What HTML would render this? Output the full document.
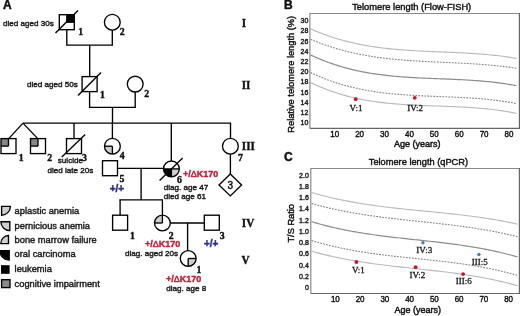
<!DOCTYPE html>
<html><head><meta charset="utf-8"><style>
html,body{margin:0;padding:0;background:#fff;}
body{width:520px;height:316px;overflow:hidden;font-family:"Liberation Sans", sans-serif;}
svg{display:block;will-change:transform;}
</style></head><body>
<svg width="520" height="316" viewBox="0 0 520 316">
<rect width="520" height="316" fill="#fff"/>
<rect x="66.8" y="14.7" width="7.5" height="7.5" fill="#000" stroke="none"/>
<line x1="66.8" y1="22.2" x2="74.3" y2="22.2" stroke="#000" stroke-width="1.35" />
<line x1="66.8" y1="22.2" x2="66.8" y2="14.7" stroke="#000" stroke-width="1.35" />
<rect x="59.3" y="14.7" width="15.0" height="15.0" fill="none" stroke="#000" stroke-width="1.35"/>
<line x1="55.5" y1="33" x2="78" y2="10.5" stroke="#000" stroke-width="1.35" />
<circle cx="112.3" cy="22.2" r="7.9" fill="none" stroke="#000" stroke-width="1.35"/>
<line x1="66.8" y1="29.7" x2="66.8" y2="45.1" stroke="#000" stroke-width="1.35" />
<line x1="66.1" y1="45.1" x2="113.0" y2="45.1" stroke="#000" stroke-width="1.35" />
<line x1="112.3" y1="30.1" x2="112.3" y2="45.1" stroke="#000" stroke-width="1.35" />
<line x1="89.7" y1="45.1" x2="89.7" y2="76.8" stroke="#000" stroke-width="1.35" />
<rect x="82.1" y="76.6" width="15.0" height="15.0" fill="none" stroke="#000" stroke-width="1.35"/>
<line x1="78" y1="95.5" x2="101" y2="72.5" stroke="#000" stroke-width="1.35" />
<circle cx="135.2" cy="84.1" r="7.9" fill="none" stroke="#000" stroke-width="1.35"/>
<line x1="89.6" y1="91.6" x2="89.6" y2="107.3" stroke="#000" stroke-width="1.35" />
<line x1="88.9" y1="107.3" x2="135.9" y2="107.3" stroke="#000" stroke-width="1.35" />
<line x1="135.2" y1="92.0" x2="135.2" y2="107.3" stroke="#000" stroke-width="1.35" />
<line x1="112.5" y1="107.3" x2="112.5" y2="123.1" stroke="#000" stroke-width="1.35" />
<line x1="23" y1="123.1" x2="231.1" y2="123.1" stroke="#000" stroke-width="1.35" />
<line x1="23" y1="123.1" x2="8.5" y2="138.9" stroke="#000" stroke-width="1.35" />
<line x1="23" y1="123.1" x2="38.0" y2="138.9" stroke="#000" stroke-width="1.35" />
<rect x="1.0" y="138.6" width="7.5" height="7.5" fill="#868686" stroke="none"/>
<line x1="8.5" y1="146.1" x2="1.0" y2="146.1" stroke="#000" stroke-width="1.35" />
<line x1="8.5" y1="146.1" x2="8.5" y2="138.6" stroke="#000" stroke-width="1.35" />
<rect x="1.0" y="138.6" width="15.0" height="15.0" fill="none" stroke="#000" stroke-width="1.35"/>
<rect x="30.5" y="138.6" width="7.5" height="7.5" fill="#868686" stroke="none"/>
<line x1="38.0" y1="146.1" x2="30.5" y2="146.1" stroke="#000" stroke-width="1.35" />
<line x1="38.0" y1="146.1" x2="38.0" y2="138.6" stroke="#000" stroke-width="1.35" />
<rect x="30.5" y="138.6" width="15.0" height="15.0" fill="none" stroke="#000" stroke-width="1.35"/>
<line x1="74.0" y1="123.1" x2="74.0" y2="138.6" stroke="#000" stroke-width="1.35" />
<rect x="66.5" y="138.6" width="15.0" height="15.0" fill="none" stroke="#000" stroke-width="1.35"/>
<line x1="61.8" y1="157" x2="85.2" y2="134.5" stroke="#000" stroke-width="1.35" />
<line x1="112.4" y1="123.1" x2="112.4" y2="138.3" stroke="#000" stroke-width="1.35" />
<path d="M112.4,146.2 L112.40,154.10 A7.9,7.9 0 0 1 104.50,146.20 Z" fill="#cfcfcf" stroke="none"/>
<line x1="112.4" y1="146.2" x2="112.4" y2="154.1" stroke="#000" stroke-width="1.35" />
<line x1="112.4" y1="146.2" x2="104.5" y2="146.2" stroke="#000" stroke-width="1.35" />
<circle cx="112.4" cy="146.2" r="7.9" fill="none" stroke="#000" stroke-width="1.35"/>
<rect x="102.5" y="160.7" width="15.0" height="15.0" fill="none" stroke="#000" stroke-width="1.35"/>
<line x1="117.5" y1="168.4" x2="163.5" y2="168.4" stroke="#000" stroke-width="1.35" />
<line x1="171.3" y1="123.1" x2="171.3" y2="161.0" stroke="#000" stroke-width="1.35" />
<path d="M171.4,168.9 L171.40,176.80 A7.9,7.9 0 0 1 163.50,168.90 Z" fill="#000" stroke="none"/>
<path d="M171.4,168.9 L179.30,168.90 A7.9,7.9 0 0 1 171.40,176.80 Z" fill="#cfcfcf" stroke="none"/>
<line x1="163.5" y1="168.9" x2="179.3" y2="168.9" stroke="#000" stroke-width="1.35" />
<line x1="171.4" y1="168.9" x2="171.4" y2="176.8" stroke="#000" stroke-width="1.35" />
<circle cx="171.4" cy="168.9" r="7.9" fill="none" stroke="#000" stroke-width="1.35"/>
<line x1="159.6" y1="180.4" x2="182.6" y2="158.1" stroke="#000" stroke-width="1.35" />
<line x1="230.5" y1="123.1" x2="230.5" y2="138.3" stroke="#000" stroke-width="1.35" />
<circle cx="230.4" cy="146.2" r="7.9" fill="none" stroke="#000" stroke-width="1.35"/>
<line x1="230.4" y1="154.1" x2="230.4" y2="174.0" stroke="#000" stroke-width="1.35" />
<path d="M230.3,173.9 L241.6,184.9 L230.3,195.9 L219.0,184.9 Z" fill="none" stroke="#000" stroke-width="1.35"/>
<line x1="141.1" y1="168.4" x2="141.1" y2="199.8" stroke="#000" stroke-width="1.35" />
<line x1="119.4" y1="199.8" x2="163.0" y2="199.8" stroke="#000" stroke-width="1.35" />
<line x1="120.1" y1="199.8" x2="120.1" y2="215.2" stroke="#000" stroke-width="1.35" />
<rect x="112.6" y="215.2" width="15.0" height="15.0" fill="none" stroke="#000" stroke-width="1.35"/>
<line x1="162.4" y1="199.8" x2="162.4" y2="215.0" stroke="#000" stroke-width="1.35" />
<path d="M162.4,223.0 L154.50,223.00 A7.9,7.9 0 0 1 162.40,215.10 Z" fill="#cfcfcf" stroke="none"/>
<line x1="162.4" y1="223.0" x2="154.5" y2="223.0" stroke="#000" stroke-width="1.35" />
<line x1="162.4" y1="223.0" x2="162.4" y2="215.1" stroke="#000" stroke-width="1.35" />
<circle cx="162.4" cy="223.0" r="7.9" fill="none" stroke="#000" stroke-width="1.35"/>
<line x1="170.3" y1="223.0" x2="204.3" y2="223.0" stroke="#000" stroke-width="1.35" />
<rect x="204.3" y="215.2" width="15.0" height="15.0" fill="none" stroke="#000" stroke-width="1.35"/>
<line x1="187.6" y1="223.0" x2="187.6" y2="250.6" stroke="#000" stroke-width="1.35" />
<path d="M188.2,258.5 L196.10,258.50 A7.9,7.9 0 0 1 188.20,266.40 Z" fill="#cfcfcf" stroke="none"/>
<line x1="188.2" y1="258.5" x2="196.1" y2="258.5" stroke="#000" stroke-width="1.35" />
<line x1="188.2" y1="258.5" x2="188.2" y2="266.4" stroke="#000" stroke-width="1.35" />
<circle cx="188.2" cy="258.5" r="7.9" fill="none" stroke="#000" stroke-width="1.35"/>
<text x="78.2" y="34.7" font-family='"Liberation Serif", serif' font-size="9.8" font-weight="bold" fill="#111" text-anchor="start" stroke="#111" stroke-width="0.4" >1</text>
<text x="119.8" y="35.4" font-family='"Liberation Serif", serif' font-size="9.8" font-weight="bold" fill="#111" text-anchor="start" stroke="#111" stroke-width="0.4" >2</text>
<text x="100.0" y="97.7" font-family='"Liberation Serif", serif' font-size="9.8" font-weight="bold" fill="#111" text-anchor="start" stroke="#111" stroke-width="0.4" >1</text>
<text x="144.2" y="97.4" font-family='"Liberation Serif", serif' font-size="9.8" font-weight="bold" fill="#111" text-anchor="start" stroke="#111" stroke-width="0.4" >2</text>
<text x="18.8" y="160.9" font-family='"Liberation Serif", serif' font-size="9.8" font-weight="bold" fill="#111" text-anchor="start" stroke="#111" stroke-width="0.4" >1</text>
<text x="47.3" y="161.0" font-family='"Liberation Serif", serif' font-size="9.8" font-weight="bold" fill="#111" text-anchor="start" stroke="#111" stroke-width="0.4" >2</text>
<text x="81.9" y="161.0" font-family='"Liberation Serif", serif' font-size="9.8" font-weight="bold" fill="#111" text-anchor="start" stroke="#111" stroke-width="0.4" >3</text>
<text x="119.8" y="159.4" font-family='"Liberation Serif", serif' font-size="9.8" font-weight="bold" fill="#111" text-anchor="start" stroke="#111" stroke-width="0.4" >4</text>
<text x="119.5" y="182.3" font-family='"Liberation Serif", serif' font-size="9.8" font-weight="bold" fill="#111" text-anchor="start" stroke="#111" stroke-width="0.4" >5</text>
<text x="177.0" y="183.3" font-family='"Liberation Serif", serif' font-size="9.8" font-weight="bold" fill="#111" text-anchor="start" stroke="#111" stroke-width="0.4" >6</text>
<text x="237.9" y="160.6" font-family='"Liberation Serif", serif' font-size="9.8" font-weight="bold" fill="#111" text-anchor="start" stroke="#111" stroke-width="0.4" >7</text>
<text x="129.9" y="239.1" font-family='"Liberation Serif", serif' font-size="9.8" font-weight="bold" fill="#111" text-anchor="start" stroke="#111" stroke-width="0.4" >1</text>
<text x="168.8" y="238.6" font-family='"Liberation Serif", serif' font-size="9.8" font-weight="bold" fill="#111" text-anchor="start" stroke="#111" stroke-width="0.4" >2</text>
<text x="219.8" y="239.1" font-family='"Liberation Serif", serif' font-size="9.8" font-weight="bold" fill="#111" text-anchor="start" stroke="#111" stroke-width="0.4" >3</text>
<text x="196.6" y="272.7" font-family='"Liberation Serif", serif' font-size="9.8" font-weight="bold" fill="#111" text-anchor="start" stroke="#111" stroke-width="0.4" >1</text>
<text x="0" y="0" font-family='"Liberation Serif", serif' font-size="13" font-weight="bold" fill="#111" text-anchor="start" stroke="#111" stroke-width="0.42" transform="translate(241.7,26.8) scale(0.86,1)">I</text>
<text x="0" y="0" font-family='"Liberation Serif", serif' font-size="13" font-weight="bold" fill="#111" text-anchor="start" stroke="#111" stroke-width="0.42" transform="translate(241.7,88.9) scale(0.86,1)">II</text>
<text x="0" y="0" font-family='"Liberation Serif", serif' font-size="13" font-weight="bold" fill="#111" text-anchor="start" stroke="#111" stroke-width="0.42" transform="translate(241.8,149.6) scale(0.86,1)">III</text>
<text x="0" y="0" font-family='"Liberation Serif", serif' font-size="13" font-weight="bold" fill="#111" text-anchor="start" stroke="#111" stroke-width="0.42" transform="translate(241.8,227.4) scale(0.86,1)">IV</text>
<text x="0" y="0" font-family='"Liberation Serif", serif' font-size="13" font-weight="bold" fill="#111" text-anchor="start" stroke="#111" stroke-width="0.42" transform="translate(241.4,263.6) scale(0.86,1)">V</text>
<text x="3.0" y="26.3" font-family='"Liberation Sans", sans-serif' font-size="8.1" font-weight="normal" fill="#1a1a1a" text-anchor="start" stroke="#1a1a1a" stroke-width="0.42" >died aged 30s</text>
<text x="27.0" y="87.3" font-family='"Liberation Sans", sans-serif' font-size="8.1" font-weight="normal" fill="#1a1a1a" text-anchor="start" stroke="#1a1a1a" stroke-width="0.42" >died aged 50s</text>
<text x="57.8" y="163.4" font-family='"Liberation Sans", sans-serif' font-size="8.1" font-weight="normal" fill="#1a1a1a" text-anchor="start" stroke="#1a1a1a" stroke-width="0.42" >suicide</text>
<text x="47.4" y="172.9" font-family='"Liberation Sans", sans-serif' font-size="8.1" font-weight="normal" fill="#1a1a1a" text-anchor="start" stroke="#1a1a1a" stroke-width="0.42" >died late 20s</text>
<text x="163.8" y="189.9" font-family='"Liberation Sans", sans-serif' font-size="8.1" font-weight="normal" fill="#1a1a1a" text-anchor="start" stroke="#1a1a1a" stroke-width="0.42" >diag. age 47</text>
<text x="163.8" y="199.3" font-family='"Liberation Sans", sans-serif' font-size="8.1" font-weight="normal" fill="#1a1a1a" text-anchor="start" stroke="#1a1a1a" stroke-width="0.42" >died age 61</text>
<text x="125.0" y="256.1" font-family='"Liberation Sans", sans-serif' font-size="8.1" font-weight="normal" fill="#1a1a1a" text-anchor="start" stroke="#1a1a1a" stroke-width="0.42" >diag. aged 20s</text>
<text x="166.3" y="290.6" font-family='"Liberation Sans", sans-serif' font-size="8.1" font-weight="normal" fill="#1a1a1a" text-anchor="start" stroke="#1a1a1a" stroke-width="0.42" >diag. age 8</text>
<text x="183.0" y="176.9" font-family='"Liberation Sans", sans-serif' font-size="9" font-weight="bold" fill="#c21f38" text-anchor="start" stroke="#c21f38" stroke-width="0.42" >+/<tspan font-weight="normal" stroke-width="0.5">Δ</tspan>K170</text>
<text x="145.0" y="247.2" font-family='"Liberation Sans", sans-serif' font-size="9" font-weight="bold" fill="#c21f38" text-anchor="start" stroke="#c21f38" stroke-width="0.42" >+/<tspan font-weight="normal" stroke-width="0.5">Δ</tspan>K170</text>
<text x="165.9" y="281.8" font-family='"Liberation Sans", sans-serif' font-size="9" font-weight="bold" fill="#c21f38" text-anchor="start" stroke="#c21f38" stroke-width="0.42" >+/<tspan font-weight="normal" stroke-width="0.5">Δ</tspan>K170</text>
<text x="109.7" y="192.4" font-family='"Liberation Sans", sans-serif' font-size="10" font-weight="bold" fill="#2f2f86" text-anchor="start" stroke="#2f2f86" stroke-width="0.42" >+/+</text>
<text x="204.0" y="246.6" font-family='"Liberation Sans", sans-serif' font-size="10" font-weight="bold" fill="#2f2f86" text-anchor="start" stroke="#2f2f86" stroke-width="0.42" >+/+</text>
<text x="227.5" y="189.0" font-family='"Liberation Sans", sans-serif' font-size="10" font-weight="normal" fill="#111" text-anchor="start" stroke="#111" stroke-width="0.42" >3</text>
<text x="3.0" y="8.5" font-family='"Liberation Sans", sans-serif' font-size="12" font-weight="bold" fill="#111" text-anchor="start" stroke="#111" stroke-width="0.45" >A</text>
<path d="M1.6,206.4 H10.4 A8.8,8.8 0 0 1 1.6,215.2 Z" fill="#cfcfcf" stroke="#000" stroke-width="1.35"/>
<path d="M9.8,221.7 V230.6 A8.9,8.9 0 0 1 0.9,221.7 Z" fill="#cfcfcf" stroke="#000" stroke-width="1.35"/>
<path d="M8.5,243.6 H0.8 A7.7,8.1 0 0 1 8.5,235.5 Z" fill="#cfcfcf" stroke="#000" stroke-width="1.35"/>
<path d="M9.2,250.6 V260.0 A9.4,9.4 0 0 1 -0.2,250.6 Z" fill="#000" stroke="#000" stroke-width="1.35"/>
<rect x="1.0" y="265.2" width="8.6" height="8.6" fill="#000"/>
<rect x="1.6" y="279.7" width="8.4" height="7.9" fill="#8a8a8a" stroke="#000" stroke-width="1.35"/>
<text x="14.6" y="214.0" font-family='"Liberation Sans", sans-serif' font-size="9.3" font-weight="normal" fill="#1a1a1a" text-anchor="start" stroke="#1a1a1a" stroke-width="0.42" >aplastic anemia</text>
<text x="14.6" y="228.9" font-family='"Liberation Sans", sans-serif' font-size="9.3" font-weight="normal" fill="#1a1a1a" text-anchor="start" stroke="#1a1a1a" stroke-width="0.42" >pernicious anemia</text>
<text x="14.6" y="242.9" font-family='"Liberation Sans", sans-serif' font-size="9.3" font-weight="normal" fill="#1a1a1a" text-anchor="start" stroke="#1a1a1a" stroke-width="0.42" >bone marrow failure</text>
<text x="14.6" y="256.8" font-family='"Liberation Sans", sans-serif' font-size="9.3" font-weight="normal" fill="#1a1a1a" text-anchor="start" stroke="#1a1a1a" stroke-width="0.42" >oral carcinoma</text>
<text x="14.6" y="271.8" font-family='"Liberation Sans", sans-serif' font-size="9.3" font-weight="normal" fill="#1a1a1a" text-anchor="start" stroke="#1a1a1a" stroke-width="0.42" >leukemia</text>
<text x="14.6" y="286.7" font-family='"Liberation Sans", sans-serif' font-size="9.3" font-weight="normal" fill="#1a1a1a" text-anchor="start" stroke="#1a1a1a" stroke-width="0.42" >cognitive impairment</text>
<text x="284.0" y="8.6" font-family='"Liberation Sans", sans-serif' font-size="12" font-weight="bold" fill="#111" text-anchor="start" stroke="#111" stroke-width="0.45" >B</text>
<text x="352.2" y="9.6" font-family='"Liberation Sans", sans-serif' font-size="9.32" font-weight="normal" fill="#111" text-anchor="start" stroke="#111" stroke-width="0.42" >Telomere length (Flow-FISH)</text>
<polyline points="310.6,28.89 312.6,29.77 314.6,30.63 316.6,31.47 318.6,32.28 320.6,33.07 322.6,33.83 324.6,34.57 326.6,35.29 328.6,35.99 330.6,36.67 332.6,37.32 334.6,37.96 336.6,38.57 338.6,39.17 340.6,39.74 342.6,40.30 344.6,40.83 346.6,41.35 348.6,41.85 350.6,42.33 352.6,42.80 354.6,43.24 356.6,43.68 358.6,44.09 360.6,44.49 362.6,44.87 364.6,45.24 366.6,45.60 368.6,45.94 370.6,46.26 372.6,46.58 374.6,46.88 376.6,47.16 378.6,47.44 380.6,47.70 382.6,47.95 384.6,48.19 386.6,48.42 388.6,48.64 390.6,48.85 392.6,49.05 394.6,49.24 396.6,49.42 398.6,49.59 400.6,49.75 402.6,49.91 404.6,50.06 406.6,50.20 408.6,50.34 410.6,50.47 412.6,50.59 414.6,50.71 416.6,50.82 418.6,50.93 420.6,51.03 422.6,51.13 424.6,51.23 426.6,51.32 428.6,51.41 430.6,51.50 432.6,51.59 434.6,51.67 436.6,51.75 438.6,51.84 440.6,51.92 442.6,52.00 444.6,52.08 446.6,52.16 448.6,52.25 450.6,52.33 452.6,52.42 454.6,52.51 456.6,52.60 458.6,52.70 460.6,52.79 462.6,52.90 464.6,53.00 466.6,53.11 468.6,53.23 470.6,53.35 472.6,53.48 474.6,53.61 476.6,53.75 478.6,53.89 480.6,54.04 482.6,54.20 484.6,54.37 486.6,54.55 488.6,54.73 490.6,54.93 492.6,55.13 494.6,55.35 496.6,55.57 498.6,55.80 500.6,56.05 502.6,56.31 504.6,56.57 506.6,56.86 508.6,57.15 510.6,57.45 512.6,57.77 514.6,58.11 516.6,58.45" fill="none" stroke="#b8b8b8" stroke-width="1.1"/>
<polyline points="310.6,39.27 312.6,40.12 314.6,40.95 316.6,41.75 318.6,42.53 320.6,43.29 322.6,44.03 324.6,44.75 326.6,45.44 328.6,46.12 330.6,46.77 332.6,47.41 334.6,48.03 336.6,48.63 338.6,49.21 340.6,49.77 342.6,50.31 344.6,50.84 346.6,51.35 348.6,51.84 350.6,52.32 352.6,52.78 354.6,53.22 356.6,53.65 358.6,54.06 360.6,54.46 362.6,54.84 364.6,55.21 366.6,55.57 368.6,55.91 370.6,56.24 372.6,56.56 374.6,56.86 376.6,57.16 378.6,57.44 380.6,57.71 382.6,57.97 384.6,58.21 386.6,58.45 388.6,58.68 390.6,58.90 392.6,59.10 394.6,59.30 396.6,59.50 398.6,59.68 400.6,59.85 402.6,60.02 404.6,60.18 406.6,60.34 408.6,60.48 410.6,60.62 412.6,60.76 414.6,60.89 416.6,61.01 418.6,61.13 420.6,61.25 422.6,61.36 424.6,61.46 426.6,61.57 428.6,61.67 430.6,61.77 432.6,61.86 434.6,61.96 436.6,62.05 438.6,62.14 440.6,62.23 442.6,62.32 444.6,62.41 446.6,62.50 448.6,62.58 450.6,62.67 452.6,62.76 454.6,62.86 456.6,62.95 458.6,63.05 460.6,63.15 462.6,63.25 464.6,63.35 466.6,63.46 468.6,63.57 470.6,63.69 472.6,63.81 474.6,63.93 476.6,64.06 478.6,64.20 480.6,64.34 482.6,64.49 484.6,64.64 486.6,64.81 488.6,64.98 490.6,65.15 492.6,65.34 494.6,65.53 496.6,65.73 498.6,65.94 500.6,66.16 502.6,66.39 504.6,66.63 506.6,66.88 508.6,67.14 510.6,67.41 512.6,67.70 514.6,67.99 516.6,68.30" fill="none" stroke="#808080" stroke-width="1.05" stroke-dasharray="1.8 1.2"/>
<polyline points="310.6,54.91 312.6,55.86 314.6,56.77 316.6,57.66 318.6,58.52 320.6,59.36 322.6,60.17 324.6,60.96 326.6,61.72 328.6,62.46 330.6,63.18 332.6,63.87 334.6,64.54 336.6,65.19 338.6,65.82 340.6,66.42 342.6,67.00 344.6,67.57 346.6,68.11 348.6,68.63 350.6,69.14 352.6,69.63 354.6,70.09 356.6,70.54 358.6,70.97 360.6,71.39 362.6,71.79 364.6,72.17 366.6,72.54 368.6,72.89 370.6,73.22 372.6,73.54 374.6,73.85 376.6,74.14 378.6,74.42 380.6,74.69 382.6,74.95 384.6,75.19 386.6,75.42 388.6,75.64 390.6,75.85 392.6,76.05 394.6,76.24 396.6,76.42 398.6,76.59 400.6,76.75 402.6,76.90 404.6,77.05 406.6,77.19 408.6,77.32 410.6,77.44 412.6,77.56 414.6,77.67 416.6,77.78 418.6,77.88 420.6,77.98 422.6,78.08 424.6,78.17 426.6,78.25 428.6,78.34 430.6,78.42 432.6,78.50 434.6,78.58 436.6,78.66 438.6,78.74 440.6,78.81 442.6,78.89 444.6,78.97 446.6,79.05 448.6,79.13 450.6,79.21 452.6,79.30 454.6,79.39 456.6,79.48 458.6,79.57 460.6,79.67 462.6,79.77 464.6,79.88 466.6,79.99 468.6,80.11 470.6,80.24 472.6,80.37 474.6,80.51 476.6,80.65 478.6,80.81 480.6,80.97 482.6,81.14 484.6,81.32 486.6,81.51 488.6,81.71 490.6,81.92 492.6,82.14 494.6,82.37 496.6,82.61 498.6,82.87 500.6,83.14 502.6,83.42 504.6,83.71 506.6,84.02 508.6,84.34 510.6,84.68 512.6,85.03 514.6,85.39 516.6,85.78" fill="none" stroke="#8c8c8c" stroke-width="1.2"/>
<polyline points="310.6,72.56 312.6,73.51 314.6,74.43 316.6,75.33 318.6,76.19 320.6,77.04 322.6,77.86 324.6,78.65 326.6,79.42 328.6,80.16 330.6,80.88 332.6,81.58 334.6,82.25 336.6,82.91 338.6,83.54 340.6,84.15 342.6,84.73 344.6,85.30 346.6,85.85 348.6,86.37 350.6,86.88 352.6,87.37 354.6,87.84 356.6,88.29 358.6,88.73 360.6,89.15 362.6,89.55 364.6,89.93 366.6,90.30 368.6,90.65 370.6,90.99 372.6,91.31 374.6,91.62 376.6,91.92 378.6,92.20 380.6,92.46 382.6,92.72 384.6,92.96 386.6,93.20 388.6,93.42 390.6,93.63 392.6,93.83 394.6,94.02 396.6,94.20 398.6,94.37 400.6,94.53 402.6,94.68 404.6,94.83 406.6,94.97 408.6,95.10 410.6,95.22 412.6,95.34 414.6,95.45 416.6,95.56 418.6,95.66 420.6,95.76 422.6,95.86 424.6,95.95 426.6,96.03 428.6,96.12 430.6,96.20 432.6,96.28 434.6,96.36 436.6,96.44 438.6,96.52 440.6,96.59 442.6,96.67 444.6,96.75 446.6,96.83 448.6,96.91 450.6,96.99 452.6,97.07 454.6,97.16 456.6,97.25 458.6,97.35 460.6,97.44 462.6,97.55 464.6,97.66 466.6,97.77 468.6,97.89 470.6,98.01 472.6,98.14 474.6,98.28 476.6,98.43 478.6,98.58 480.6,98.74 482.6,98.92 484.6,99.10 486.6,99.28 488.6,99.48 490.6,99.69 492.6,99.92 494.6,100.15 496.6,100.39 498.6,100.65 500.6,100.92 502.6,101.20 504.6,101.49 506.6,101.80 508.6,102.13 510.6,102.46 512.6,102.82 514.6,103.19 516.6,103.57" fill="none" stroke="#808080" stroke-width="1.05" stroke-dasharray="1.8 1.2"/>
<polyline points="310.6,82.49 312.6,83.45 314.6,84.39 316.6,85.30 318.6,86.18 320.6,87.04 322.6,87.86 324.6,88.67 326.6,89.44 328.6,90.19 330.6,90.92 332.6,91.62 334.6,92.30 336.6,92.96 338.6,93.59 340.6,94.20 342.6,94.79 344.6,95.35 346.6,95.90 348.6,96.42 350.6,96.93 352.6,97.41 354.6,97.88 356.6,98.32 358.6,98.75 360.6,99.16 362.6,99.56 364.6,99.93 366.6,100.29 368.6,100.63 370.6,100.96 372.6,101.28 374.6,101.57 376.6,101.86 378.6,102.13 380.6,102.38 382.6,102.63 384.6,102.86 386.6,103.08 388.6,103.29 390.6,103.48 392.6,103.67 394.6,103.85 396.6,104.01 398.6,104.17 400.6,104.32 402.6,104.46 404.6,104.59 406.6,104.71 408.6,104.83 410.6,104.94 412.6,105.05 414.6,105.15 416.6,105.24 418.6,105.33 420.6,105.42 422.6,105.50 424.6,105.58 426.6,105.65 428.6,105.73 430.6,105.80 432.6,105.87 434.6,105.94 436.6,106.00 438.6,106.07 440.6,106.14 442.6,106.21 444.6,106.28 446.6,106.35 448.6,106.43 450.6,106.50 452.6,106.58 454.6,106.66 456.6,106.75 458.6,106.84 460.6,106.94 462.6,107.04 464.6,107.15 466.6,107.26 468.6,107.38 470.6,107.51 472.6,107.65 474.6,107.79 476.6,107.94 478.6,108.10 480.6,108.27 482.6,108.45 484.6,108.64 486.6,108.84 488.6,109.06 490.6,109.28 492.6,109.52 494.6,109.76 496.6,110.03 498.6,110.30 500.6,110.59 502.6,110.89 504.6,111.21 506.6,111.55 508.6,111.90 510.6,112.26 512.6,112.64 514.6,113.04 516.6,113.46" fill="none" stroke="#b8b8b8" stroke-width="1.1"/>
<path d="M309.9,128.4 V13.5 H519.4" fill="none" stroke="#8a8a8a" stroke-width="1.2"/>
<path d="M309.9,128.4 H519.4 V13.0" fill="none" stroke="#666" stroke-width="1.2"/>
<text x="308.4" y="125.4" font-family='"Liberation Sans", sans-serif' font-size="7" font-weight="normal" fill="#222" text-anchor="end" stroke="#222" stroke-width="0.42" >10</text>
<text x="308.4" y="115.17" font-family='"Liberation Sans", sans-serif' font-size="7" font-weight="normal" fill="#222" text-anchor="end" stroke="#222" stroke-width="0.42" >12</text>
<text x="308.4" y="104.94" font-family='"Liberation Sans", sans-serif' font-size="7" font-weight="normal" fill="#222" text-anchor="end" stroke="#222" stroke-width="0.42" >14</text>
<text x="308.4" y="94.71" font-family='"Liberation Sans", sans-serif' font-size="7" font-weight="normal" fill="#222" text-anchor="end" stroke="#222" stroke-width="0.42" >16</text>
<text x="308.4" y="84.48" font-family='"Liberation Sans", sans-serif' font-size="7" font-weight="normal" fill="#222" text-anchor="end" stroke="#222" stroke-width="0.42" >18</text>
<text x="308.4" y="74.25" font-family='"Liberation Sans", sans-serif' font-size="7" font-weight="normal" fill="#222" text-anchor="end" stroke="#222" stroke-width="0.42" >20</text>
<text x="308.4" y="64.02" font-family='"Liberation Sans", sans-serif' font-size="7" font-weight="normal" fill="#222" text-anchor="end" stroke="#222" stroke-width="0.42" >22</text>
<text x="308.4" y="53.79" font-family='"Liberation Sans", sans-serif' font-size="7" font-weight="normal" fill="#222" text-anchor="end" stroke="#222" stroke-width="0.42" >24</text>
<text x="308.4" y="43.56" font-family='"Liberation Sans", sans-serif' font-size="7" font-weight="normal" fill="#222" text-anchor="end" stroke="#222" stroke-width="0.42" >26</text>
<text x="308.4" y="33.33" font-family='"Liberation Sans", sans-serif' font-size="7" font-weight="normal" fill="#222" text-anchor="end" stroke="#222" stroke-width="0.42" >28</text>
<text x="308.4" y="23.1" font-family='"Liberation Sans", sans-serif' font-size="7" font-weight="normal" fill="#222" text-anchor="end" stroke="#222" stroke-width="0.42" >30</text>
<text x="0" y="0" font-family='"Liberation Sans", sans-serif' font-size="8.7" font-weight="normal" fill="#111" text-anchor="middle" stroke="#111" stroke-width="0.4" transform="translate(334.70,136.6) scale(0.92,1)">10</text>
<text x="0" y="0" font-family='"Liberation Sans", sans-serif' font-size="8.7" font-weight="normal" fill="#111" text-anchor="middle" stroke="#111" stroke-width="0.4" transform="translate(359.60,136.6) scale(0.92,1)">20</text>
<text x="0" y="0" font-family='"Liberation Sans", sans-serif' font-size="8.7" font-weight="normal" fill="#111" text-anchor="middle" stroke="#111" stroke-width="0.4" transform="translate(384.50,136.6) scale(0.92,1)">30</text>
<text x="0" y="0" font-family='"Liberation Sans", sans-serif' font-size="8.7" font-weight="normal" fill="#111" text-anchor="middle" stroke="#111" stroke-width="0.4" transform="translate(409.40,136.6) scale(0.92,1)">40</text>
<text x="0" y="0" font-family='"Liberation Sans", sans-serif' font-size="8.7" font-weight="normal" fill="#111" text-anchor="middle" stroke="#111" stroke-width="0.4" transform="translate(434.30,136.6) scale(0.92,1)">50</text>
<text x="0" y="0" font-family='"Liberation Sans", sans-serif' font-size="8.7" font-weight="normal" fill="#111" text-anchor="middle" stroke="#111" stroke-width="0.4" transform="translate(459.20,136.6) scale(0.92,1)">60</text>
<text x="0" y="0" font-family='"Liberation Sans", sans-serif' font-size="8.7" font-weight="normal" fill="#111" text-anchor="middle" stroke="#111" stroke-width="0.4" transform="translate(484.10,136.6) scale(0.92,1)">70</text>
<text x="0" y="0" font-family='"Liberation Sans", sans-serif' font-size="8.7" font-weight="normal" fill="#111" text-anchor="middle" stroke="#111" stroke-width="0.4" transform="translate(509.00,136.6) scale(0.92,1)">80</text>
<text x="394.0" y="146.8" font-family='"Liberation Sans", sans-serif' font-size="9" font-weight="normal" fill="#111" text-anchor="start" stroke="#111" stroke-width="0.45" >Age (years)</text>
<text x="0" y="0" font-family='"Liberation Sans", sans-serif' font-size="9.25" font-weight="normal" fill="#111" text-anchor="middle" stroke="#111" stroke-width="0.42" transform="translate(293.8,74.3) rotate(-90)">Relative telomere length (%)</text>
<circle cx="355.7" cy="99.2" r="1.9" fill="#c8142e"/>
<circle cx="414.8" cy="97.8" r="1.9" fill="#c8142e"/>
<text x="349.6" y="110.7" font-family='"Liberation Serif", serif' font-size="9" font-weight="normal" fill="#111" text-anchor="start" stroke="#111" stroke-width="0.28" >V:1</text>
<text x="407.2" y="110.7" font-family='"Liberation Serif", serif' font-size="9" font-weight="normal" fill="#111" text-anchor="start" stroke="#111" stroke-width="0.28" >IV:2</text>
<text x="284.0" y="161.4" font-family='"Liberation Sans", sans-serif' font-size="12" font-weight="bold" fill="#111" text-anchor="start" stroke="#111" stroke-width="0.45" >C</text>
<text x="368.8" y="164.8" font-family='"Liberation Sans", sans-serif' font-size="9.25" font-weight="normal" fill="#111" text-anchor="start" stroke="#111" stroke-width="0.42" >Telomere length (qPCR)</text>
<polyline points="311.6,192.51 313.6,193.09 315.6,193.67 317.6,194.22 319.6,194.77 321.6,195.30 323.6,195.82 325.6,196.33 327.6,196.82 329.6,197.30 331.6,197.77 333.6,198.23 335.6,198.68 337.6,199.12 339.6,199.55 341.6,199.96 343.6,200.37 345.6,200.76 347.6,201.15 349.6,201.53 351.6,201.90 353.6,202.25 355.6,202.60 357.6,202.95 359.6,203.28 361.6,203.60 363.6,203.92 365.6,204.23 367.6,204.53 369.6,204.83 371.6,205.12 373.6,205.40 375.6,205.68 377.6,205.95 379.6,206.21 381.6,206.47 383.6,206.72 385.6,206.97 387.6,207.21 389.6,207.45 391.6,207.68 393.6,207.91 395.6,208.14 397.6,208.36 399.6,208.58 401.6,208.80 403.6,209.01 405.6,209.22 407.6,209.43 409.6,209.63 411.6,209.84 413.6,210.04 415.6,210.24 417.6,210.44 419.6,210.63 421.6,210.83 423.6,211.03 425.6,211.23 427.6,211.42 429.6,211.62 431.6,211.82 433.6,212.01 435.6,212.21 437.6,212.41 439.6,212.61 441.6,212.82 443.6,213.02 445.6,213.23 447.6,213.44 449.6,213.65 451.6,213.87 453.6,214.09 455.6,214.31 457.6,214.53 459.6,214.76 461.6,215.00 463.6,215.24 465.6,215.48 467.6,215.73 469.6,215.98 471.6,216.24 473.6,216.50 475.6,216.77 477.6,217.04 479.6,217.33 481.6,217.61 483.6,217.91 485.6,218.21 487.6,218.52 489.6,218.84 491.6,219.16 493.6,219.49 495.6,219.83 497.6,220.18 499.6,220.54 501.6,220.91 503.6,221.28 505.6,221.67 507.6,222.07 509.6,222.47 511.6,222.89 513.6,223.31 515.6,223.75 517.6,224.20" fill="none" stroke="#b8b8b8" stroke-width="1.1"/>
<polyline points="311.6,203.48 313.6,204.05 315.6,204.60 317.6,205.14 319.6,205.67 321.6,206.19 323.6,206.69 325.6,207.18 327.6,207.66 329.6,208.13 331.6,208.59 333.6,209.04 335.6,209.47 337.6,209.90 339.6,210.32 341.6,210.72 343.6,211.12 345.6,211.51 347.6,211.88 349.6,212.25 351.6,212.61 353.6,212.96 355.6,213.31 357.6,213.64 359.6,213.97 361.6,214.29 363.6,214.61 365.6,214.91 367.6,215.21 369.6,215.51 371.6,215.79 373.6,216.08 375.6,216.35 377.6,216.62 379.6,216.89 381.6,217.15 383.6,217.40 385.6,217.65 387.6,217.90 389.6,218.14 391.6,218.38 393.6,218.62 395.6,218.85 397.6,219.08 399.6,219.31 401.6,219.53 403.6,219.75 405.6,219.97 407.6,220.19 409.6,220.41 411.6,220.62 413.6,220.84 415.6,221.05 417.6,221.26 419.6,221.48 421.6,221.69 423.6,221.90 425.6,222.12 427.6,222.33 429.6,222.55 431.6,222.77 433.6,222.98 435.6,223.20 437.6,223.43 439.6,223.65 441.6,223.88 443.6,224.11 445.6,224.34 447.6,224.58 449.6,224.81 451.6,225.06 453.6,225.30 455.6,225.56 457.6,225.81 459.6,226.07 461.6,226.34 463.6,226.61 465.6,226.88 467.6,227.17 469.6,227.45 471.6,227.75 473.6,228.05 475.6,228.35 477.6,228.67 479.6,228.99 481.6,229.32 483.6,229.65 485.6,230.00 487.6,230.35 489.6,230.71 491.6,231.08 493.6,231.46 495.6,231.85 497.6,232.24 499.6,232.65 501.6,233.07 503.6,233.50 505.6,233.93 507.6,234.38 509.6,234.84 511.6,235.31 513.6,235.79 515.6,236.28 517.6,236.79" fill="none" stroke="#808080" stroke-width="1.05" stroke-dasharray="1.8 1.2"/>
<polyline points="311.6,221.65 313.6,222.26 315.6,222.84 317.6,223.42 319.6,223.97 321.6,224.52 323.6,225.05 325.6,225.57 327.6,226.07 329.6,226.57 331.6,227.05 333.6,227.51 335.6,227.97 337.6,228.41 339.6,228.85 341.6,229.27 343.6,229.68 345.6,230.08 347.6,230.47 349.6,230.85 351.6,231.22 353.6,231.58 355.6,231.93 357.6,232.28 359.6,232.61 361.6,232.94 363.6,233.26 365.6,233.57 367.6,233.88 369.6,234.18 371.6,234.47 373.6,234.75 375.6,235.03 377.6,235.30 379.6,235.57 381.6,235.83 383.6,236.09 385.6,236.34 387.6,236.59 389.6,236.83 391.6,237.07 393.6,237.31 395.6,237.54 397.6,237.77 399.6,238.00 401.6,238.22 403.6,238.44 405.6,238.66 407.6,238.88 409.6,239.10 411.6,239.32 413.6,239.53 415.6,239.75 417.6,239.97 419.6,240.18 421.6,240.40 423.6,240.62 425.6,240.83 427.6,241.05 429.6,241.27 431.6,241.50 433.6,241.72 435.6,241.95 437.6,242.18 439.6,242.41 441.6,242.65 443.6,242.89 445.6,243.14 447.6,243.39 449.6,243.64 451.6,243.90 453.6,244.16 455.6,244.43 457.6,244.70 459.6,244.98 461.6,245.27 463.6,245.56 465.6,245.86 467.6,246.16 469.6,246.48 471.6,246.80 473.6,247.13 475.6,247.47 477.6,247.81 479.6,248.17 481.6,248.53 483.6,248.90 485.6,249.29 487.6,249.68 489.6,250.08 491.6,250.50 493.6,250.92 495.6,251.36 497.6,251.80 499.6,252.26 501.6,252.73 503.6,253.21 505.6,253.71 507.6,254.22 509.6,254.74 511.6,255.27 513.6,255.82 515.6,256.38 517.6,256.96" fill="none" stroke="#8c8c8c" stroke-width="1.2"/>
<polyline points="311.6,240.50 313.6,241.12 315.6,241.71 317.6,242.29 319.6,242.86 321.6,243.41 323.6,243.95 325.6,244.47 327.6,244.98 329.6,245.48 331.6,245.96 333.6,246.43 335.6,246.89 337.6,247.33 339.6,247.77 341.6,248.19 343.6,248.60 345.6,249.00 347.6,249.39 349.6,249.77 351.6,250.14 353.6,250.51 355.6,250.86 357.6,251.20 359.6,251.53 361.6,251.86 363.6,252.17 365.6,252.48 367.6,252.78 369.6,253.07 371.6,253.36 373.6,253.64 375.6,253.91 377.6,254.18 379.6,254.44 381.6,254.70 383.6,254.95 385.6,255.19 387.6,255.43 389.6,255.67 391.6,255.90 393.6,256.13 395.6,256.36 397.6,256.58 399.6,256.80 401.6,257.02 403.6,257.23 405.6,257.44 407.6,257.65 409.6,257.86 411.6,258.07 413.6,258.28 415.6,258.49 417.6,258.69 419.6,258.90 421.6,259.11 423.6,259.32 425.6,259.53 427.6,259.74 429.6,259.95 431.6,260.16 433.6,260.38 435.6,260.60 437.6,260.82 439.6,261.05 441.6,261.28 443.6,261.51 445.6,261.74 447.6,261.98 449.6,262.23 451.6,262.48 453.6,262.73 455.6,262.99 457.6,263.26 459.6,263.53 461.6,263.81 463.6,264.10 465.6,264.39 467.6,264.69 469.6,265.00 471.6,265.31 473.6,265.64 475.6,265.97 477.6,266.31 479.6,266.66 481.6,267.02 483.6,267.39 485.6,267.77 487.6,268.16 489.6,268.55 491.6,268.97 493.6,269.39 495.6,269.82 497.6,270.27 499.6,270.72 501.6,271.19 503.6,271.67 505.6,272.17 507.6,272.68 509.6,273.20 511.6,273.73 513.6,274.28 515.6,274.85 517.6,275.43" fill="none" stroke="#808080" stroke-width="1.05" stroke-dasharray="1.8 1.2"/>
<polyline points="311.6,251.18 313.6,251.75 315.6,252.31 317.6,252.85 319.6,253.38 321.6,253.90 323.6,254.41 325.6,254.90 327.6,255.38 329.6,255.85 331.6,256.30 333.6,256.75 335.6,257.18 337.6,257.61 339.6,258.02 341.6,258.42 343.6,258.82 345.6,259.20 347.6,259.57 349.6,259.94 351.6,260.29 353.6,260.64 355.6,260.98 357.6,261.31 359.6,261.64 361.6,261.95 363.6,262.26 365.6,262.56 367.6,262.86 369.6,263.14 371.6,263.43 373.6,263.70 375.6,263.97 377.6,264.24 379.6,264.50 381.6,264.76 383.6,265.01 385.6,265.25 387.6,265.50 389.6,265.74 391.6,265.97 393.6,266.21 395.6,266.44 397.6,266.66 399.6,266.89 401.6,267.11 403.6,267.33 405.6,267.55 407.6,267.77 409.6,267.99 411.6,268.20 413.6,268.42 415.6,268.63 417.6,268.85 419.6,269.07 421.6,269.28 423.6,269.50 425.6,269.72 427.6,269.94 429.6,270.16 431.6,270.39 433.6,270.62 435.6,270.84 437.6,271.08 439.6,271.31 441.6,271.55 443.6,271.79 445.6,272.04 447.6,272.29 449.6,272.54 451.6,272.80 453.6,273.07 455.6,273.33 457.6,273.61 459.6,273.89 461.6,274.18 463.6,274.47 465.6,274.77 467.6,275.08 469.6,275.39 471.6,275.71 473.6,276.04 475.6,276.38 477.6,276.72 479.6,277.08 481.6,277.44 483.6,277.81 485.6,278.19 487.6,278.58 489.6,278.98 491.6,279.39 493.6,279.81 495.6,280.24 497.6,280.69 499.6,281.14 501.6,281.60 503.6,282.08 505.6,282.57 507.6,283.07 509.6,283.58 511.6,284.11 513.6,284.65 515.6,285.20 517.6,285.77" fill="none" stroke="#b8b8b8" stroke-width="1.1"/>
<path d="M310.8,293.5 V168.5 H519.4" fill="none" stroke="#8a8a8a" stroke-width="1.2"/>
<path d="M310.8,293.5 H519.4 V168.0" fill="none" stroke="#666" stroke-width="1.2"/>
<text x="308.8" y="290.0" font-family='"Liberation Sans", sans-serif' font-size="7" font-weight="normal" fill="#222" text-anchor="end" stroke="#222" stroke-width="0.42" >0</text>
<text x="308.8" y="278.78" font-family='"Liberation Sans", sans-serif' font-size="7" font-weight="normal" fill="#222" text-anchor="end" stroke="#222" stroke-width="0.42" >0.2</text>
<text x="308.8" y="267.56" font-family='"Liberation Sans", sans-serif' font-size="7" font-weight="normal" fill="#222" text-anchor="end" stroke="#222" stroke-width="0.42" >0.4</text>
<text x="308.8" y="256.34" font-family='"Liberation Sans", sans-serif' font-size="7" font-weight="normal" fill="#222" text-anchor="end" stroke="#222" stroke-width="0.42" >0.6</text>
<text x="308.8" y="245.12" font-family='"Liberation Sans", sans-serif' font-size="7" font-weight="normal" fill="#222" text-anchor="end" stroke="#222" stroke-width="0.42" >0.8</text>
<text x="308.8" y="233.9" font-family='"Liberation Sans", sans-serif' font-size="7" font-weight="normal" fill="#222" text-anchor="end" stroke="#222" stroke-width="0.42" >1.0</text>
<text x="308.8" y="222.68" font-family='"Liberation Sans", sans-serif' font-size="7" font-weight="normal" fill="#222" text-anchor="end" stroke="#222" stroke-width="0.42" >1.2</text>
<text x="308.8" y="211.46" font-family='"Liberation Sans", sans-serif' font-size="7" font-weight="normal" fill="#222" text-anchor="end" stroke="#222" stroke-width="0.42" >1.4</text>
<text x="308.8" y="200.24" font-family='"Liberation Sans", sans-serif' font-size="7" font-weight="normal" fill="#222" text-anchor="end" stroke="#222" stroke-width="0.42" >1.6</text>
<text x="308.8" y="189.02" font-family='"Liberation Sans", sans-serif' font-size="7" font-weight="normal" fill="#222" text-anchor="end" stroke="#222" stroke-width="0.42" >1.8</text>
<text x="308.8" y="177.8" font-family='"Liberation Sans", sans-serif' font-size="7" font-weight="normal" fill="#222" text-anchor="end" stroke="#222" stroke-width="0.42" >2.0</text>
<text x="0" y="0" font-family='"Liberation Sans", sans-serif' font-size="8.7" font-weight="normal" fill="#111" text-anchor="middle" stroke="#111" stroke-width="0.4" transform="translate(335.35,301.7) scale(0.92,1)">10</text>
<text x="0" y="0" font-family='"Liberation Sans", sans-serif' font-size="8.7" font-weight="normal" fill="#111" text-anchor="middle" stroke="#111" stroke-width="0.4" transform="translate(360.10,301.7) scale(0.92,1)">20</text>
<text x="0" y="0" font-family='"Liberation Sans", sans-serif' font-size="8.7" font-weight="normal" fill="#111" text-anchor="middle" stroke="#111" stroke-width="0.4" transform="translate(384.85,301.7) scale(0.92,1)">30</text>
<text x="0" y="0" font-family='"Liberation Sans", sans-serif' font-size="8.7" font-weight="normal" fill="#111" text-anchor="middle" stroke="#111" stroke-width="0.4" transform="translate(409.60,301.7) scale(0.92,1)">40</text>
<text x="0" y="0" font-family='"Liberation Sans", sans-serif' font-size="8.7" font-weight="normal" fill="#111" text-anchor="middle" stroke="#111" stroke-width="0.4" transform="translate(434.35,301.7) scale(0.92,1)">50</text>
<text x="0" y="0" font-family='"Liberation Sans", sans-serif' font-size="8.7" font-weight="normal" fill="#111" text-anchor="middle" stroke="#111" stroke-width="0.4" transform="translate(459.10,301.7) scale(0.92,1)">60</text>
<text x="0" y="0" font-family='"Liberation Sans", sans-serif' font-size="8.7" font-weight="normal" fill="#111" text-anchor="middle" stroke="#111" stroke-width="0.4" transform="translate(483.85,301.7) scale(0.92,1)">70</text>
<text x="0" y="0" font-family='"Liberation Sans", sans-serif' font-size="8.7" font-weight="normal" fill="#111" text-anchor="middle" stroke="#111" stroke-width="0.4" transform="translate(508.60,301.7) scale(0.92,1)">80</text>
<text x="394.4" y="313.4" font-family='"Liberation Sans", sans-serif' font-size="9" font-weight="normal" fill="#111" text-anchor="start" stroke="#111" stroke-width="0.45" >Age (years)</text>
<text x="0" y="0" font-family='"Liberation Sans", sans-serif' font-size="9.25" font-weight="normal" fill="#111" text-anchor="middle" stroke="#111" stroke-width="0.42" transform="translate(293.9,223.3) rotate(-90)">T/S Ratio</text>
<circle cx="356.4" cy="262.0" r="1.9" fill="#c8142e"/>
<circle cx="415.6" cy="267.2" r="1.9" fill="#c8142e"/>
<circle cx="463.1" cy="274.1" r="1.9" fill="#c8142e"/>
<circle cx="422.9" cy="242.7" r="1.7" fill="#4a7cb5"/>
<circle cx="478.9" cy="254.5" r="1.7" fill="#4a7cb5"/>
<text x="352.0" y="272.5" font-family='"Liberation Serif", serif' font-size="9" font-weight="normal" fill="#111" text-anchor="start" stroke="#111" stroke-width="0.28" >V:1</text>
<text x="409.5" y="277.5" font-family='"Liberation Serif", serif' font-size="9" font-weight="normal" fill="#111" text-anchor="start" stroke="#111" stroke-width="0.28" >IV:2</text>
<text x="416.3" y="253.0" font-family='"Liberation Serif", serif' font-size="9" font-weight="normal" fill="#111" text-anchor="start" stroke="#111" stroke-width="0.28" >IV:3</text>
<text x="455.8" y="283.6" font-family='"Liberation Serif", serif' font-size="9" font-weight="normal" fill="#111" text-anchor="start" stroke="#111" stroke-width="0.28" >III:6</text>
<text x="471.7" y="265.4" font-family='"Liberation Serif", serif' font-size="9" font-weight="normal" fill="#111" text-anchor="start" stroke="#111" stroke-width="0.28" >III:5</text>
</svg>
</body></html>
